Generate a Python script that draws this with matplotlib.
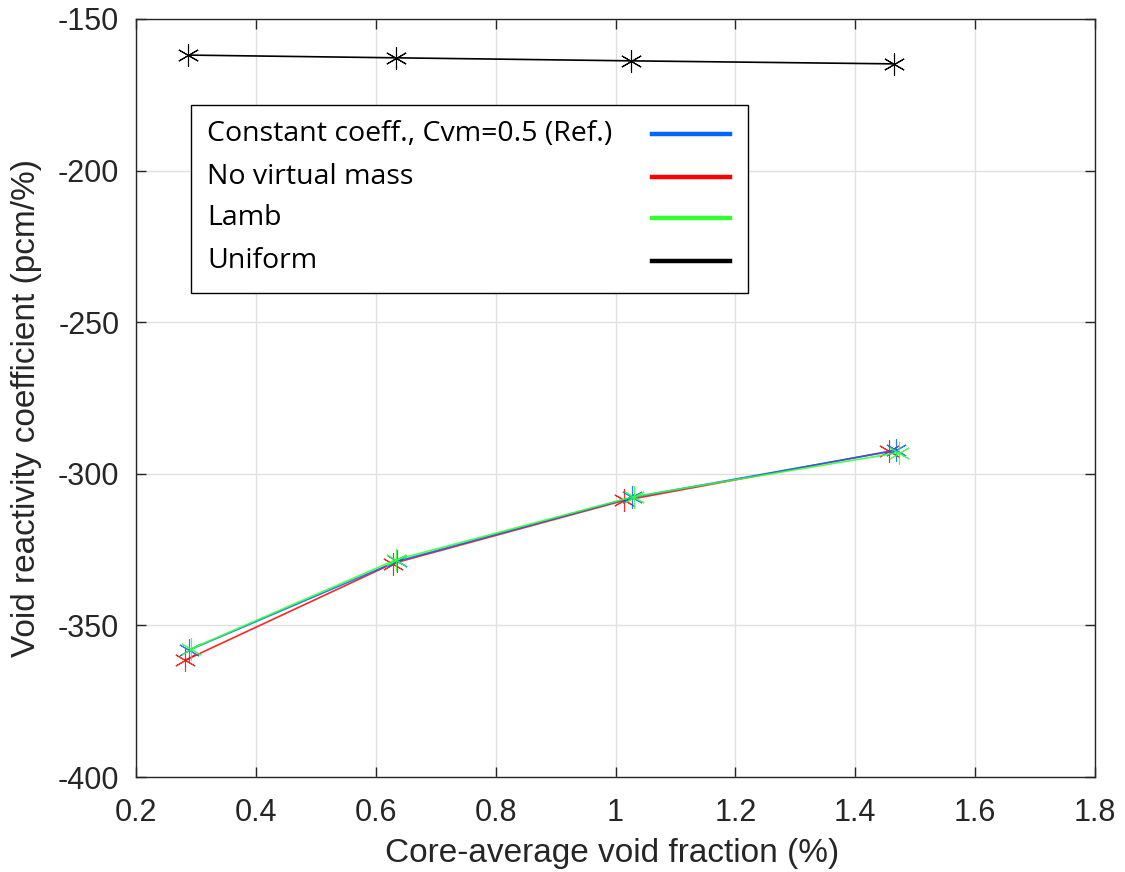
import matplotlib
matplotlib.use("Agg")
import matplotlib.pyplot as plt
from matplotlib.lines import Line2D
from matplotlib.patches import Rectangle

# Data
x_ref = [0.288, 0.635, 1.028, 1.468]
y_ref = [-358.2, -328.9, -307.8, -292.3]
x_novm = [0.282, 0.628, 1.014, 1.456]
y_novm = [-361.5, -329.6, -308.8, -292.6]
x_lamb = [0.291, 0.634, 1.031, 1.473]
y_lamb = [-357.8, -328.3, -307.5, -293.0]
x_uni = [0.287, 0.633, 1.026, 1.465]
y_uni = [-161.9, -162.8, -163.8, -164.8]

labels = ["Constant coeff., Cvm=0.5 (Ref.)", "No virtual mass", "Lamb", "Uniform"]
colors = ["#0066ff", "#ff0000", "#33ff33", "#000000"]

xticks = [0.2, 0.4, 0.6, 0.8, 1.0, 1.2, 1.4, 1.6, 1.8]
xticklabels = ["0.2", "0.4", "0.6", "0.8", "1", "1.2", "1.4", "1.6", "1.8"]
yticks = [-400, -350, -300, -250, -200, -150]
yticklabels = ["-400", "-350", "-300", "-250", "-200", "-150"]

plt.rcParams['font.family'] = ['Liberation Sans', 'DejaVu Sans']

fig = plt.figure(figsize=(11.25, 8.72), dpi=100)
ax = fig.add_axes([136/1125, 1 - 777/872, (1095-136)/1125, (777-19)/872])

ast = (6, 2, 0)
all_series = [(x_ref, y_ref), (x_novm, y_novm), (x_lamb, y_lamb), (x_uni, y_uni)]
for i in [1, 0, 2, 3]:
    xs, ys = all_series[i]
    ax.plot(xs, ys, color=colors[i], lw=1.2, marker=ast, ms=16, mew=0.8,
            alpha=0.85 if i < 3 else 1.0, zorder=3)

# Legend (text on the left, line sample on the right, as in the original)
frame = Rectangle((0.0574, 0.6385), 0.638 - 0.0574, 0.8865 - 0.6385,
                  transform=ax.transAxes, facecolor='white', edgecolor='black',
                  lw=1.0, zorder=5)
ax.add_patch(frame)
row_y = [0.848, 0.7916, 0.7375, 0.6807]
for lab, c, yy in zip(labels, colors, row_y):
    ax.text(0.074, yy, lab, transform=ax.transAxes, ha='left', va='center',
            fontsize=20.5, family=['Open Sans', 'DejaVu Sans'], color='black', zorder=6)
    ax.add_line(Line2D([0.538, 0.619], [yy, yy], transform=ax.transAxes,
                       color=c, lw=3.2, zorder=6))

ax.set_xlim(0.2, 1.8)
ax.set_ylim(-400, -150)
ax.set_xticks(xticks)
ax.set_xticklabels(xticklabels)
ax.set_yticks(yticks)
ax.set_yticklabels(yticklabels)
ax.grid(True, color='#e0e0e0', lw=1.0)
ax.set_axisbelow(True)
ax.tick_params(direction='in', length=7, width=1, top=True, right=True, labelsize=22,
               colors='#262626')
ax.tick_params(axis='x', pad=15)
ax.tick_params(axis='y', pad=12)
for s in ax.spines.values():
    s.set_color('#262626')
    s.set_linewidth(1.0)

ax.set_xlabel("Core-average void fraction (%)", fontsize=24, color='#262626')
ax.set_ylabel("Void reactivity coefficient (pcm/%)", fontsize=24, color='#262626')
ax.xaxis.set_label_coords(0.497, -0.080)
ax.yaxis.set_label_coords(-0.098, 0.487)

fig.savefig("out.png", dpi=100, facecolor='white')
